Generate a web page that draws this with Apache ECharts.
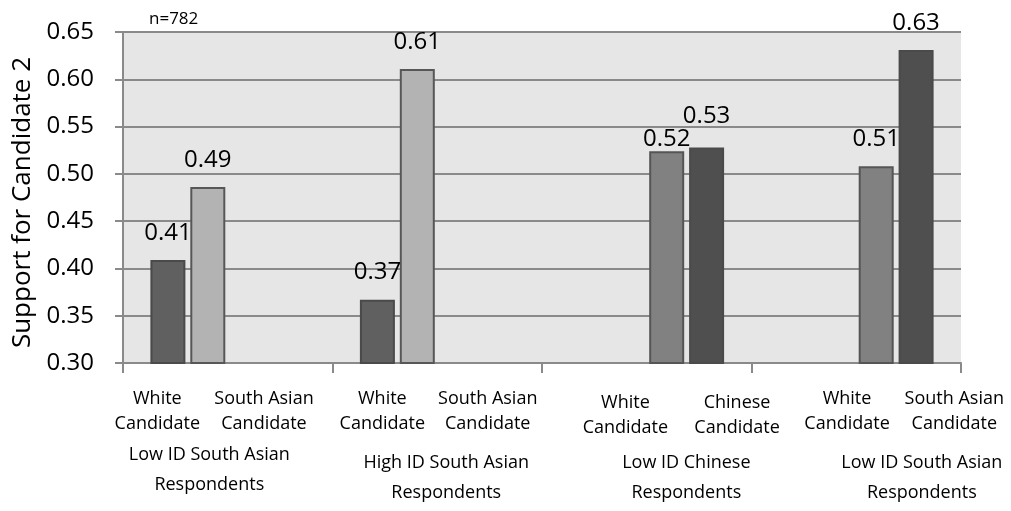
<!DOCTYPE html>
<html><head><meta charset="utf-8">
<script src="https://cdn.jsdelivr.net/npm/echarts@6/dist/echarts.min.js"></script>
<style>html,body{margin:0;padding:0;background:#fff}#c{width:1011px;height:511px}</style>
</head><body><div id="c"></div>
<script>
// ---- data ----
const groupLabels = ['Low ID South Asian\nRespondents', 'High ID South Asian\nRespondents', 'Low ID Chinese\nRespondents', 'Low ID South Asian\nRespondents'];
const candidateLabels = ['White\nCandidate', 'South Asian\nCandidate', 'White\nCandidate', 'South Asian\nCandidate', 'White\nCandidate', 'Chinese\nCandidate', 'White\nCandidate', 'South Asian\nCandidate'];
const whiteCandSA = [0.409, 0.367, null, null];
const saCandSA = [0.486, 0.611, null, null];
const whiteCandOther = [null, null, 0.524, 0.508];
const minorityCandOther = [null, null, 0.528, 0.631];
const yMin = 0.30, yMax = 0.65, yStep = 0.05;
const sampleNote = 'n=782';
const yName = 'Support for Candidate 2';

// ---- layout (label placement along the x axis, in category units) ----
const candLabelPos = [0.164, 0.673, 1.238, 1.741, 2.398, 2.931, 3.456, 3.968];
const groupLabelPos = [0.412, 1.543, 2.689, 3.813];

const lineCol = '#8a8a8a';
const font = 'Open Sans';

function labelAxis(positions, texts, margin, fontSize, lineHeight) {
  return {
    type: 'value', min: 0, max: 4, position: 'bottom', gridIndex: 0,
    axisLine: { show: false, onZero: false }, axisTick: { show: false }, splitLine: { show: false },
    axisLabel: {
      customValues: positions,
      formatter: v => { const i = positions.indexOf(v); return i < 0 ? '' : texts[i]; },
      margin: margin, fontSize: fontSize, lineHeight: lineHeight, color: '#000', fontFamily: font,
      hideOverlap: false
    }
  };
}

const subA = [0, 1, 2, 3, 6, 7];
const subB = [4, 5];

function barSeries(data, color, border, overrides) {
  return {
    type: 'bar', barWidth: 35, barGap: '14%',
    data: data.map((v, i) => (overrides && overrides[i] !== undefined && v != null) ? { value: v, label: { distance: overrides[i] } } : v),
    itemStyle: { color: color, borderColor: border, borderWidth: 2 },
    label: {
      show: true, position: 'top', distance: 15, fontSize: 24, color: '#000', fontFamily: font,
      formatter: p => (p.value == null ? '' : Number(p.value).toFixed(2))
    }
  };
}

const chart = echarts.init(document.getElementById('c'));
chart.setOption({
  animation: false,
  textStyle: { fontFamily: font },
  title: { text: sampleNote, left: 144, top: 6, textStyle: { fontSize: 17, fontWeight: 'normal', color: '#000', fontFamily: font } },
  grid: { left: 123, right: 50, top: 32, bottom: 148, show: true, backgroundColor: '#e6e6e6', borderWidth: 0 },
  xAxis: [
    {
      type: 'category', data: groupLabels, boundaryGap: true, position: 'bottom',
      axisLine: { show: true, onZero: false, lineStyle: { color: lineCol, width: 2 } },
      axisTick: { show: true, length: 10, lineStyle: { color: lineCol, width: 2 } },
      axisLabel: { show: false }, splitLine: { show: false }
    },
    labelAxis(subA.map(i => candLabelPos[i]), subA.map(i => candidateLabels[i]), 23, 18, 25),
    labelAxis(subB.map(i => candLabelPos[i]), subB.map(i => candidateLabels[i]), 27, 18, 25),
    labelAxis([groupLabelPos[0]], [groupLabels[0]], 77, 18, 30),
    labelAxis(groupLabelPos.slice(1), groupLabels.slice(1), 85, 18, 30)
  ],
  yAxis: {
    type: 'value', min: yMin, max: yMax, interval: yStep,
    name: yName, nameLocation: 'middle', nameGap: 84,
    nameTextStyle: { fontSize: 26, color: '#000', fontFamily: font, padding: [0, 10, 0, 0] },
    axisLine: { show: true, onZero: false, lineStyle: { color: lineCol, width: 2 } },
    axisTick: { show: true, length: 8, lineStyle: { color: lineCol, width: 2 } },
    splitLine: { show: true, lineStyle: { color: lineCol, width: 2 } },
    axisLabel: { fontSize: 24, margin: 29, color: '#000', fontFamily: font, formatter: v => v.toFixed(2) }
  },
  series: [
    barSeries(whiteCandSA, '#606060', '#4a4a4a'),
    barSeries(saCandSA, '#b3b3b3', '#575757'),
    barSeries(whiteCandOther, '#818181', '#555555', { 2: 0 }),
    barSeries(minorityCandOther, '#4f4f4f', '#4a4a4a', { 2: 19 })
  ]
});
</script>
</body></html>
